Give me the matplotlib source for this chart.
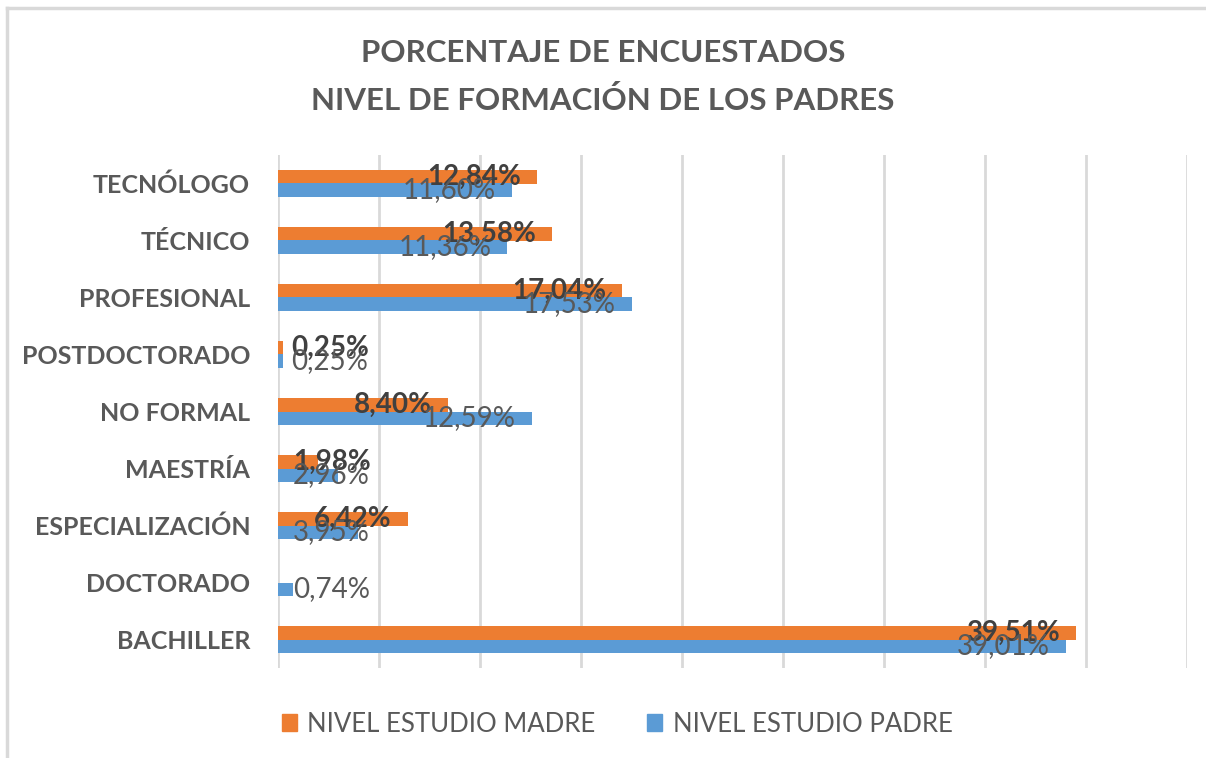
import matplotlib
matplotlib.use("Agg")
import matplotlib.pyplot as plt
from matplotlib.patches import Patch
from matplotlib.lines import Line2D

plt.rcParams['font.family'] = ['Lato', 'DejaVu Sans']

categories = ["BACHILLER", "DOCTORADO", "ESPECIALIZACIÓN", "MAESTRÍA", "NO FORMAL",
              "POSTDOCTORADO", "PROFESIONAL", "TÉCNICO", "TECNÓLOGO"]
madre = [39.51, 0.0, 6.42, 1.98, 8.40, 0.25, 17.04, 13.58, 12.84]
padre = [39.01, 0.74, 3.95, 2.96, 12.59, 0.25, 17.53, 11.36, 11.60]
series_names = ["NIVEL ESTUDIO MADRE", "NIVEL ESTUDIO PADRE"]
title_lines = ["PORCENTAJE DE ENCUESTADOS", "NIVEL DE FORMACIÓN DE LOS PADRES"]

ORANGE = "#ED7D31"
BLUE = "#5B9BD5"
GRID = "#D9D9D9"
TXT = "#595959"
DARK = "#404040"

fig = plt.figure(figsize=(12.06, 7.58), dpi=100)
ax = fig.add_axes([278/1206, 1 - 668/758, 909/1206, 513/758])

h = 0.245
ys = list(range(len(categories)))
ax.barh([y + h/2 for y in ys], madre, height=h, color=ORANGE, zorder=3)
ax.barh([y - h/2 for y in ys], padre, height=h, color=BLUE, zorder=3)

ax.set_xlim(0, 45)
ax.set_ylim(-0.5, len(categories) - 0.5)
for xv in range(0, 46, 5):
    ax.axvline(xv, color=GRID, lw=2, zorder=1)

ax.set_yticks(ys)
ax.set_yticklabels(categories, fontsize=18, fontweight='bold', color=TXT)
ax.tick_params(axis='y', length=0, pad=20)
ax.set_xticks([])
for s in ax.spines.values():
    s.set_visible(False)

def fmt(v):
    return f"{v:.2f}%".replace('.', ',')

def put_label(y, v, bold):
    if v <= 0:
        return
    kw = dict(va='center', fontsize=20, zorder=5,
              color=DARK if bold else TXT,
              fontweight='bold' if bold else 'normal')
    if v > 5:
        ax.text(v - 0.8, y, fmt(v), ha='right', **kw)
    else:
        ax.text(min(max(v, 0.65), 0.75), y, fmt(v), ha='left', **kw)

for y, m, p in zip(ys, madre, padre):
    put_label(y + h/2, m, True)
    put_label(y - h/2, p, False)

fig.text(0.5, 1 - 53/758, title_lines[0], ha='center', va='center',
         fontsize=22.5, fontweight='bold', color=TXT)
fig.text(0.5, 1 - 100/758, title_lines[1], ha='center', va='center',
         fontsize=22.5, fontweight='bold', color=TXT)

handles = [Patch(color=ORANGE), Patch(color=BLUE)]
fig.legend(handles, series_names, loc='center', bbox_to_anchor=(617/1206, 1 - 724/758),
           ncol=2, frameon=False, fontsize=18.5, labelcolor=TXT,
           handlelength=0.6, handleheight=0.6, handletextpad=0.4, columnspacing=2.0)

# chart frame (partially visible)
fig.add_artist(Line2D([7/1206, 1], [1 - 8/758, 1 - 8/758], color=GRID, lw=2.5,
                      transform=fig.transFigure))
fig.add_artist(Line2D([7/1206, 7/1206], [0, 1 - 8/758], color=GRID, lw=2.5,
                      transform=fig.transFigure))

fig.savefig("out.png", dpi=100, facecolor='white')
